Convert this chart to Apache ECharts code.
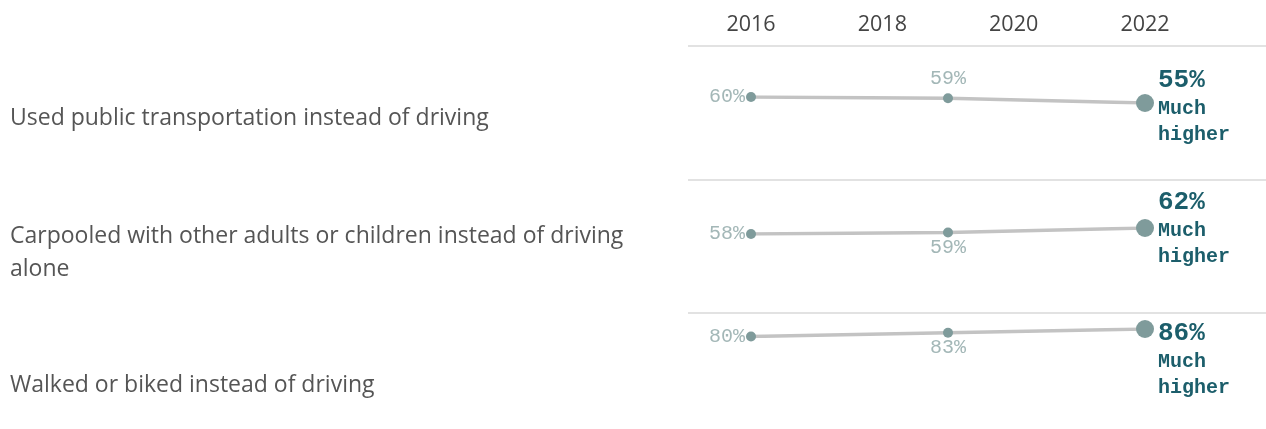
<!DOCTYPE html>
<html>
<head>
<meta charset="utf-8">
<script src="https://cdn.jsdelivr.net/npm/echarts@6/dist/echarts.min.js"></script>
<style>
  html, body { margin: 0; padding: 0; background: #fff; }
  #chart { width: 1266px; height: 429px; }
</style>
</head>
<body>
<div id="chart"></div>
<script>
// data
var categories = [
  'Used public transportation instead of driving',
  'Carpooled with other adults or children instead of driving\nalone',
  'Walked or biked instead of driving'
];
var years = [2016, 2019, 2022];
var tickYears = [2016, 2018, 2020, 2022];
var publicTransit = [60, 59, 55];
var carpooled = [58, 59, 62];
var walkedBiked = [80, 83, 86];
var changeLabels = ['Much higher', 'Much higher', 'Much higher'];

var rows = [publicTransit, carpooled, walkedBiked];

// layout (px)
var plotLeft = 751, plotWidth = 394;
var rowTop = [97, 228, 329];
var rowHeight = [6, 6, 7.5];
var sepY = [46, 180, 313];
var catY = [118, 253, 385];
var midPos = ['top', 'bottom', 'bottom'];
var lastOffset = [[0, 3], [0, 0], [0, 30]];

var dotColor = '#7f9b9b';
var lineColor = '#c3c3c3';
var greyText = '#a3b7b7';
var tealText = '#1c5e6b';
var mono = '"Liberation Mono", "Courier New", monospace';
var sans = '"Open Sans", sans-serif';

var grids = [], xAxes = [], yAxes = [], series = [], graphics = [];

// header axis grid
grids.push({ left: plotLeft, width: plotWidth, top: 46, height: 1 });
xAxes.push({
  gridIndex: 0, type: 'value', position: 'top', min: 2016, max: 2022, interval: 2,
  axisLine: { show: false }, axisTick: { show: false }, splitLine: { show: false },
  axisLabel: {
    margin: 10, color: '#444', fontSize: 21.5, fontFamily: sans,
    formatter: function (v) { return tickYears.indexOf(v) >= 0 ? String(v) : ''; }
  }
});
yAxes.push({ gridIndex: 0, type: 'value', show: false });

rows.forEach(function (vals, r) {
  var g = r + 1;
  grids.push({ left: plotLeft, width: plotWidth, top: rowTop[r], height: rowHeight[r] });
  xAxes.push({ gridIndex: g, type: 'value', min: 2016, max: 2022, show: false });
  yAxes.push({ gridIndex: g, type: 'value', min: 'dataMin', max: 'dataMax', show: false });

  var words = changeLabels[r].split(' ');
  var data = years.map(function (y, i) {
    var item = { value: [y, vals[i]] };
    if (i === 0) {
      item.label = { show: true, position: 'left', distance: 1, color: greyText,
        fontFamily: mono, fontSize: 20, formatter: vals[i] + '%' };
    } else if (i === 1) {
      item.label = { show: true, position: midPos[r], distance: midPos[r] === 'top' ? 4 : 0,
        color: greyText, fontFamily: mono, fontSize: 20, formatter: vals[i] + '%' };
    } else {
      item.label = {
        show: true, position: 'right', distance: 4, offset: lastOffset[r], align: 'left',
        formatter: '{v|' + vals[i] + '%}\n' + words.map(function (w) { return '{s|' + w + '}'; }).join('\n'),
        rich: {
          v: { fontFamily: mono, fontWeight: 'bold', fontSize: 26, color: tealText, lineHeight: 32 },
          s: { fontFamily: mono, fontWeight: 'bold', fontSize: 20, color: tealText, lineHeight: 26 }
        }
      };
    }
    return item;
  });

  series.push({
    type: 'line', xAxisIndex: g, yAxisIndex: g, data: data,
    symbol: 'circle',
    symbolSize: function (v, p) { return p.dataIndex === years.length - 1 ? 18 : 10; },
    lineStyle: { color: lineColor, width: 3.5 },
    itemStyle: { color: dotColor },
    emphasis: { disabled: true },
    silent: true, animation: false
  });

  graphics.push({
    type: 'line', shape: { x1: 688, y1: sepY[r], x2: 1266, y2: sepY[r] },
    style: { stroke: '#d8d8d8', lineWidth: 1.5 }, silent: true
  });
  graphics.push({
    type: 'text', left: 10, top: catY[r] - (categories[r].indexOf('\n') >= 0 ? 33 : 16.5),
    style: { text: categories[r], fill: '#555', fontSize: 23, lineHeight: 33,
      fontFamily: sans }, silent: true
  });
});

var chart = echarts.init(document.getElementById('chart'));
chart.setOption({
  animation: false,
  grid: grids,
  xAxis: xAxes,
  yAxis: yAxes,
  series: series,
  graphic: graphics
});
</script>
</body>
</html>
